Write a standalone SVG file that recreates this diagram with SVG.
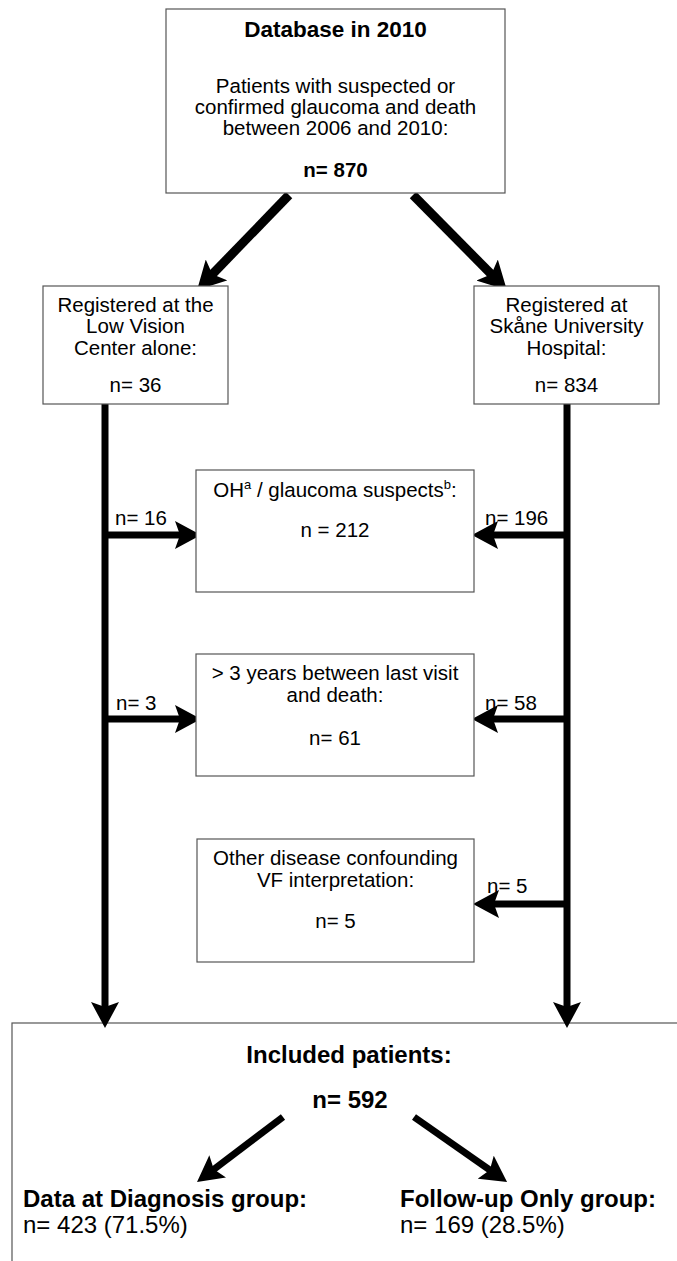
<svg xmlns="http://www.w3.org/2000/svg" width="677" height="1261" viewBox="0 0 677 1261">
<style>
  .box { fill: #fff; stroke: #555; stroke-width: 1.2; }
  .t { font-family: "Liberation Sans", Arial, sans-serif; font-size: 20.5px; fill: #000; text-anchor: middle; }
  .b { font-weight: bold; }
  .big { font-size: 24px; }
  .l { text-anchor: start; }
  .conn { stroke: #000; fill: none; stroke-linecap: butt; }
  .thick { stroke-width: 9; }
  .med { stroke-width: 7; }
</style>
<defs>
  <marker id="hL" markerUnits="userSpaceOnUse" viewBox="0 0 28 30" refX="14" refY="15" markerWidth="28" markerHeight="30" orient="auto">
    <path d="M0,0 L28,15 L0,30 L6,15 Z" fill="#000"/>
  </marker>
  <marker id="hM" markerUnits="userSpaceOnUse" viewBox="0 0 26 28" refX="13" refY="14" markerWidth="26" markerHeight="28" orient="auto">
    <path d="M0,0 L26,14 L0,28 L5,14 Z" fill="#000"/>
  </marker>
</defs>

<g id="bottom-box">
  <rect class="box" x="12" y="1023" width="700" height="300"/>
</g>

<g id="connectors">
  <line class="conn thick" x1="289" y1="195" x2="206.8" y2="280" marker-end="url(#hL)"/>
  <line class="conn thick" x1="413" y1="195" x2="497" y2="280" marker-end="url(#hL)"/>
  <line class="conn med" x1="105" y1="404" x2="105" y2="1015" marker-end="url(#hM)"/>
  <line class="conn med" x1="567" y1="404" x2="567" y2="1015" marker-end="url(#hM)"/>
  <line class="conn med" x1="105" y1="535" x2="188" y2="535" marker-end="url(#hM)"/>
  <line class="conn med" x1="567" y1="535" x2="485" y2="535" marker-end="url(#hM)"/>
  <line class="conn med" x1="105" y1="719" x2="188" y2="719" marker-end="url(#hM)"/>
  <line class="conn med" x1="567" y1="719" x2="485" y2="719" marker-end="url(#hM)"/>
  <line class="conn med" x1="567" y1="904" x2="486" y2="904" marker-end="url(#hM)"/>
  <line class="conn med" x1="283" y1="1117" x2="207.4" y2="1174.2" marker-end="url(#hM)"/>
  <line class="conn med" x1="414" y1="1117" x2="496.4" y2="1174.6" marker-end="url(#hM)"/>
</g>

<g id="database">
  <rect class="box" x="166" y="9" width="339" height="184"/>
  <text class="t b" x="335.5" y="37" style="font-size:22.5px">Database in 2010</text>
  <text class="t" x="335.5" y="93">Patients with suspected or</text>
  <text class="t" x="335.5" y="114">confirmed glaucoma and death</text>
  <text class="t" x="335.5" y="135">between 2006 and 2010:</text>
  <text class="t b" x="335.5" y="177">n= 870</text>
</g>

<g id="low-vision">
  <rect class="box" x="43" y="286" width="185" height="118"/>
  <text class="t" x="135.5" y="312">Registered at the</text>
  <text class="t" x="135.5" y="333">Low Vision</text>
  <text class="t" x="135.5" y="355">Center alone:</text>
  <text class="t" x="135.5" y="392">n= 36</text>
</g>

<g id="skane">
  <rect class="box" x="474" y="286" width="185" height="118"/>
  <text class="t" x="566.5" y="312">Registered at</text>
  <text class="t" x="566.5" y="333">Skåne University</text>
  <text class="t" x="566.5" y="355">Hospital:</text>
  <text class="t" x="566.5" y="392">n= 834</text>
</g>

<g id="oh-suspects">
  <rect class="box" x="196" y="470" width="278" height="122"/>
  <text class="t" x="335" y="497">OH<tspan font-size="13" dy="-8">a</tspan><tspan dy="8"> / glaucoma suspects</tspan><tspan font-size="13" dy="-8">b</tspan><tspan dy="8">:</tspan></text>
  <text class="t" x="335" y="537">n = 212</text>
</g>

<g id="three-years">
  <rect class="box" x="196" y="654" width="278" height="122"/>
  <text class="t" x="335" y="680">&gt; 3 years between last visit</text>
  <text class="t" x="335" y="702">and death:</text>
  <text class="t" x="335" y="745">n= 61</text>
</g>

<g id="other-disease">
  <rect class="box" x="197" y="839" width="277" height="123"/>
  <text class="t" x="335.5" y="865">Other disease confounding</text>
  <text class="t" x="335.5" y="887">VF interpretation:</text>
  <text class="t" x="335.5" y="928">n= 5</text>
</g>

<g id="edge-labels">
  <text class="t l" x="115" y="525">n= 16</text>
  <text class="t l" x="485" y="525">n= 196</text>
  <text class="t l" x="116" y="710">n= 3</text>
  <text class="t l" x="485" y="710">n= 58</text>
  <text class="t l" x="487" y="893">n= 5</text>
</g>

<g id="included">
  <text class="t b big" x="349" y="1063">Included patients:</text>
  <text class="t b big" x="350" y="1108">n= 592</text>
  <text class="t b big l" x="23" y="1207">Data at Diagnosis group:</text>
  <text class="t big l" x="23" y="1233">n= 423 (71.5%)</text>
  <text class="t b big l" x="400" y="1207">Follow-up Only group:</text>
  <text class="t big l" x="400" y="1233">n= 169 (28.5%)</text>
</g>
</svg>
